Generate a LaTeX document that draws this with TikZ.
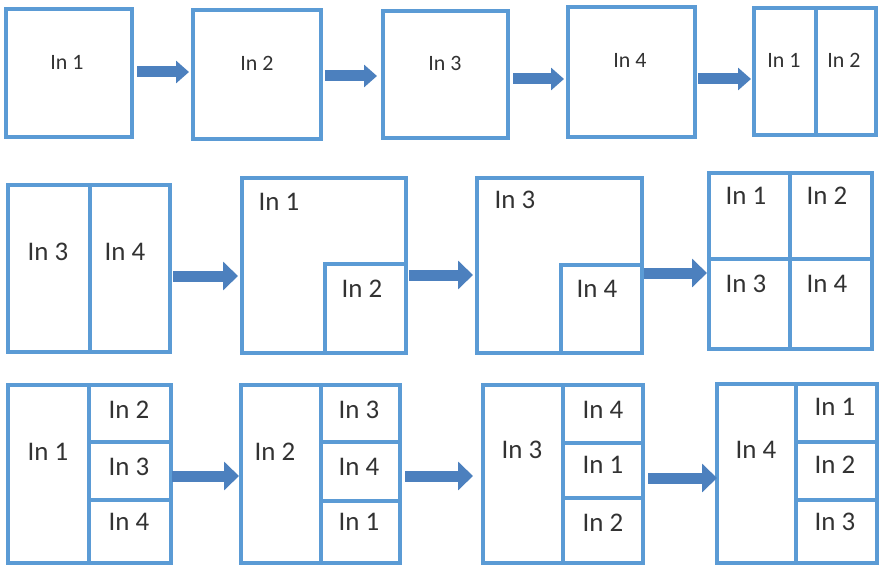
\documentclass[tikz,border=0pt]{standalone}
\usepackage{fontspec}
\setmainfont{Carlito}
\usetikzlibrary{arrows.meta,fit}
\definecolor{paneblue}{RGB}{91,155,213}
\definecolor{arrblue}{RGB}{76,128,190}
\definecolor{txt}{RGB}{50,50,50}
\tikzset{
  pane/.style={draw=paneblue, line width=3.2bp, inner sep=0pt, outer sep=0pt},
  divline/.style={draw=paneblue, line width=3.2bp},
  lblS/.style={inner sep=0pt, text=txt, font=\fontsize{22}{26}\selectfont},
  lblL/.style={inner sep=0pt, text=txt, font=\fontsize{27}{32}\selectfont},
  barrowS/.style={draw=arrblue, line width=11bp, -{Triangle[length=13bp,width=22bp]}},
  barrowL/.style={draw=arrblue, line width=11bp, -{Triangle[length=15bp,width=28bp]}},
}
\begin{document}
\begin{tikzpicture}[x=1bp,y=-1bp]
\useasboundingbox (0,0) rectangle (879,565);
\fill[white] (0,0) rectangle (879,565);

% ---------- Row 1 ----------
\node[pane, fit={(6,9) (132,137)}] (b1) {};
\node[pane, fit={(193,10) (321,139)}] (b2) {};
\node[pane, fit={(383,11) (508,138)}] (b3) {};
\node[pane, fit={(568,7) (695,137)}] (b4) {};
\node[pane, fit={(754,8) (876,135)}] (b5) {};
\draw[divline] (816,8) -- (816,135);

\node[lblS] (t1) at (67,62) {In 1};
\node[lblS] (t2) at (257,63) {In 2};
\node[lblS] (t3) at (445,63) {In 3};
\node[lblS] (t4) at (630,60) {In 4};
\node[lblS] (t5a) at (784,60) {In 1};
\node[lblS] (t5b) at (844,60) {In 2};

\coordinate (a1s) at (137,72);  \coordinate (a1e) at (189,72);
\coordinate (a2s) at (325,76);  \coordinate (a2e) at (377,76);
\coordinate (a3s) at (513,79);  \coordinate (a3e) at (564,79);
\coordinate (a4s) at (698,79);  \coordinate (a4e) at (751,79);
\draw[barrowS] (a1s) -- (a1e);
\draw[barrowS] (a2s) -- (a2e);
\draw[barrowS] (a3s) -- (a3e);
\draw[barrowS] (a4s) -- (a4e);

% ---------- Row 2 ----------
\node[pane, fit={(8,185) (170,352)}] (b6) {};
\draw[divline] (90,185) -- (90,352);
\node[lblL] (t6a) at (48,252) {In 3};
\node[lblL] (t6b) at (125,252) {In 4};

\node[pane, fit={(242,178) (406,353)}] (b7) {};
\draw[divline] (325,353) -- (325,264) -- (406,264);
\node[lblL] (t7a) at (279,202) {In 1};
\node[lblL] (t7b) at (362,289) {In 2};

\node[pane, fit={(477,178) (642,353)}] (b8) {};
\draw[divline] (561,353) -- (561,265) -- (642,265);
\node[lblL] (t8a) at (515,200) {In 3};
\node[lblL] (t8b) at (597,289) {In 4};

\node[pane, fit={(709,173) (872,349)}] (b9) {};
\draw[divline] (790,173) -- (790,349);
\draw[divline] (709,259) -- (872,259);
\node[lblL] (t9a) at (746,196) {In 1};
\node[lblL] (t9b) at (827,196) {In 2};
\node[lblL] (t9c) at (746,284) {In 3};
\node[lblL] (t9d) at (827,284) {In 4};

\coordinate (a5s) at (173,276);  \coordinate (a5e) at (238,276);
\coordinate (a6s) at (409,275);  \coordinate (a6e) at (473,275);
\coordinate (a7s) at (644,273);  \coordinate (a7e) at (707,273);
\draw[barrowL] (a5s) -- (a5e);
\draw[barrowL] (a6s) -- (a6e);
\draw[barrowL] (a7s) -- (a7e);

% ---------- Row 3 ----------
\node[pane, fit={(8,385) (171,563)}] (b10) {};
\draw[divline] (89,385) -- (89,563);
\draw[divline] (89,442) -- (171,442);
\draw[divline] (89,500) -- (171,500);
\node[lblL] (t10a) at (48,452) {In 1};
\node[lblL] (t10b) at (129,410) {In 2};
\node[lblL] (t10c) at (129,467) {In 3};
\node[lblL] (t10d) at (129,522) {In 4};

\node[pane, fit={(241,385) (400,563)}] (b11) {};
\draw[divline] (321,385) -- (321,563);
\draw[divline] (321,442) -- (400,442);
\draw[divline] (321,501) -- (400,501);
\node[lblL] (t11a) at (275,452) {In 2};
\node[lblL] (t11b) at (359,410) {In 3};
\node[lblL] (t11c) at (359,467) {In 4};
\node[lblL] (t11d) at (359,522) {In 1};

\node[pane, fit={(483,385) (643,563)}] (b12) {};
\draw[divline] (563,385) -- (563,563);
\draw[divline] (563,443) -- (643,443);
\draw[divline] (563,498) -- (643,498);
\node[lblL] (t12a) at (522,450) {In 3};
\node[lblL] (t12b) at (603,410) {In 4};
\node[lblL] (t12c) at (603,465) {In 1};
\node[lblL] (t12d) at (603,523) {In 2};

\node[pane, fit={(717,384) (877,563)}] (b13) {};
\draw[divline] (796,384) -- (796,563);
\draw[divline] (796,442) -- (877,442);
\draw[divline] (796,500) -- (877,500);
\node[lblL] (t13a) at (756,450) {In 4};
\node[lblL] (t13b) at (835,407) {In 1};
\node[lblL] (t13c) at (835,465) {In 2};
\node[lblL] (t13d) at (835,522) {In 3};

\coordinate (a8s) at (172,476);   \coordinate (a8e) at (239,476);
\coordinate (a9s) at (405,476);   \coordinate (a9e) at (473,476);
\coordinate (a10s) at (648,478);  \coordinate (a10e) at (717,478);
\draw[barrowL] (a8s) -- (a8e);
\draw[barrowL] (a9s) -- (a9e);
\draw[barrowL] (a10s) -- (a10e);
\end{tikzpicture}
\end{document}
